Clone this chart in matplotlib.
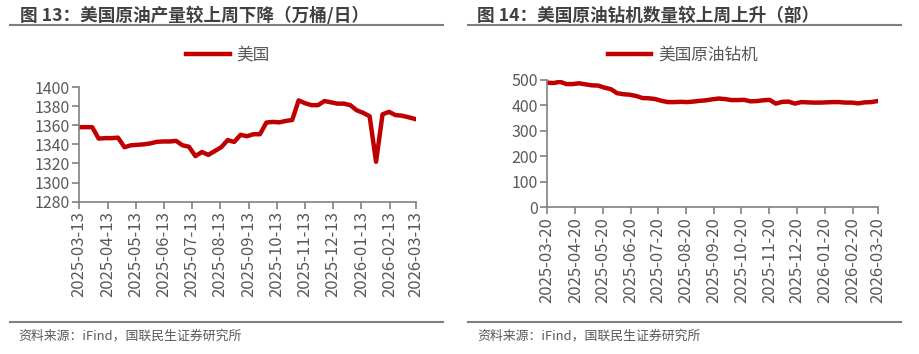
import matplotlib
matplotlib.use("Agg")
import matplotlib.pyplot as plt
import matplotlib.dates as mdates
from matplotlib.lines import Line2D
import pandas as pd
import numpy as np

plt.rcParams['font.family'] = ['Noto Sans CJK SC', 'DejaVu Sans']

# ---------------- data ----------------
title_left = "图 13：美国原油产量较上周下降（万桶/日）"
title_right = "图 14：美国原油钻机数量较上周上升（部）"
source_text = "资料来源：iFind，国联民生证券研究所"
series_left = "美国"
series_right = "美国原油钻机"

dates_left = pd.date_range("2025-03-13", periods=53, freq="7D")
production = [1358, 1358, 1358, 1346, 1346.5, 1346.5, 1347, 1337, 1339, 1339.5,
              1340, 1341, 1342.6, 1343, 1343, 1343.6, 1339, 1337.5, 1327.7, 1332,
              1329, 1333, 1337, 1344.5, 1342.5, 1350, 1348.5, 1350.6, 1350.6, 1362.8,
              1363.5, 1363, 1364.5, 1365.5, 1386, 1383, 1381, 1381, 1385.3, 1384,
              1382.6, 1382.6, 1381, 1375.6, 1373, 1369.4, 1321.8, 1371.4, 1374, 1370.6,
              1370, 1368.4, 1366.6]

dates_right = pd.date_range("2025-03-20", periods=53, freq="7D")
rigs = [489.5, 488, 493, 484, 484, 487, 483, 479, 478, 470,
        464, 448, 444, 442, 437, 429, 428, 425, 418, 413,
        413, 414, 413, 415, 418, 420, 424, 427, 425, 421,
        421, 422, 416, 417, 420, 422, 407, 414, 415, 407,
        413, 412, 411, 411, 412, 413, 413, 411, 411, 408,
        412, 413, 417]

ticks_left = [pd.Timestamp("2025-03-13") + pd.DateOffset(months=m) for m in range(13)]
ticks_right = [pd.Timestamp("2025-03-20") + pd.DateOffset(months=m) for m in range(13)]
yticks_left = [1280, 1300, 1320, 1340, 1360, 1380, 1400]
yticks_right = [0, 100, 200, 300, 400, 500]

# ---------------- style ----------------
W, H = 919, 354
RED = "#C00000"
GREY = "#808080"
TXT = "#595959"

fig = plt.figure(figsize=(W / 100, H / 100), dpi=100)


def px_axes(x0, y0, x1, y1):
    return fig.add_axes([x0 / W, 1 - y1 / H, (x1 - x0) / W, (y1 - y0) / H])


def hline(x0, x1, y, color="#7f7f7f", lw=1.5):
    fig.add_artist(Line2D([x0 / W, x1 / W], [1 - y / H, 1 - y / H],
                          transform=fig.transFigure, color=color, lw=lw))


def style(ax, ticks, yticks, ylim, xlim):
    for s in ["top", "right"]:
        ax.spines[s].set_visible(False)
    for s in ["left", "bottom"]:
        ax.spines[s].set_color(GREY)
        ax.spines[s].set_linewidth(1.2)
    ax.set_xlim(xlim)
    ax.set_ylim(ylim)
    ax.set_yticks(yticks)
    ax.set_xticks(ticks)
    ax.xaxis.set_major_formatter(mdates.DateFormatter("%Y-%m-%d"))
    ax.tick_params(axis="x", rotation=90, labelsize=12, colors=GREY,
                   labelcolor=TXT, length=5, width=1.2, pad=2)
    ax.tick_params(axis="y", labelsize=11.5, colors=GREY, labelcolor=TXT,
                   length=5, width=1.2, pad=2)
    ax.patch.set_alpha(0)


# left panel
fig.text(20 / W, 1 - 16 / H, title_left, fontsize=12.7, fontweight="bold",
         color="#404040", va="center", ha="left")
hline(10, 443, 25)
hline(10, 443, 322)
fig.text(18 / W, 1 - 336 / H, source_text, fontsize=9.3, color=TXT,
         va="center", ha="left")

axL = px_axes(79.3, 87, 415.7, 201.7)
axL.plot(dates_left, production, color=RED, lw=3.2, solid_joinstyle="round",
         label=series_left)
style(axL, ticks_left, yticks_left, (1280, 1400),
      (pd.Timestamp("2025-03-13"), pd.Timestamp("2026-03-13")))
axL.legend(loc="center", bbox_to_anchor=(228 / W, 1 - 55 / H),
           bbox_transform=fig.transFigure, frameon=False, fontsize=12,
           handlelength=2.6, handletextpad=0.4, labelcolor=TXT)

# right panel
fig.text(477 / W, 1 - 16 / H, title_right, fontsize=12.7, fontweight="bold",
         color="#404040", va="center", ha="left")
hline(468, 901, 25)
hline(468, 901, 322)
fig.text(477 / W, 1 - 336 / H, source_text, fontsize=9.3, color=TXT,
         va="center", ha="left")

axR = px_axes(547.3, 80, 878.3, 207)
axR.plot(dates_right, rigs, color=RED, lw=3.2, solid_joinstyle="round",
         label=series_right)
style(axR, ticks_right, yticks_right, (0, 500),
      (pd.Timestamp("2025-03-20"), pd.Timestamp("2026-03-20")))
axR.legend(loc="center", bbox_to_anchor=(683 / W, 1 - 55 / H),
           bbox_transform=fig.transFigure, frameon=False, fontsize=12,
           handlelength=2.6, handletextpad=0.4, labelcolor=TXT)

fig.savefig("out.png", dpi=100)
